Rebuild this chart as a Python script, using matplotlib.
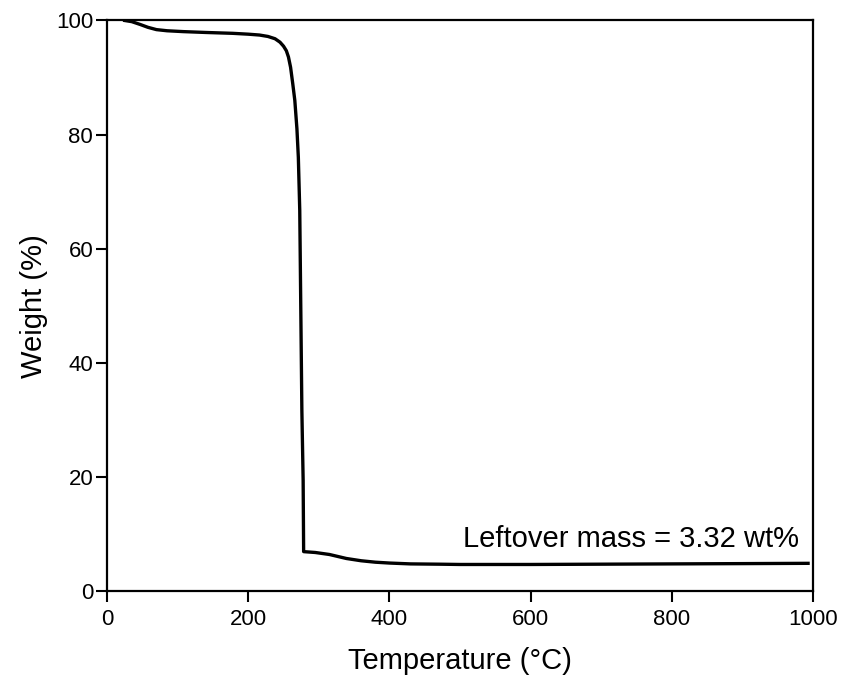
import numpy as np
import matplotlib
matplotlib.use("Agg")
import matplotlib.pyplot as plt

plt.rcParams['font.family'] = ['Liberation Sans', 'DejaVu Sans']

# TGA curve
temperature = [25, 35, 47, 58, 70, 85, 108, 140, 178, 200, 216, 228, 238,
               245, 250, 254, 257, 260, 263, 266, 269, 271, 273, 276, 277.8,
               278.5, 295, 315, 339, 360, 380, 400, 430, 470, 500, 600, 700,
               800, 900, 993]
weight = [100, 99.8, 99.3, 98.8, 98.4, 98.2, 98.05, 97.9, 97.75, 97.6, 97.45,
          97.2, 96.8, 96.2, 95.5, 94.7, 93.6, 91.8, 89, 86, 81, 76, 66.7,
          31.6, 19.4, 6.9, 6.75, 6.4, 5.7, 5.3, 5.05, 4.9, 4.75, 4.7, 4.65,
          4.65, 4.7, 4.75, 4.8, 4.85]

x_ticks = [0, 200, 400, 600, 800, 1000]
y_ticks = [0, 20, 40, 60, 80, 100]
note = "Leftover mass = 3.32 wt%"

fig = plt.figure(figsize=(8.46, 6.83), dpi=100)
ax = fig.add_axes([0.1265, 0.1347, 0.961 - 0.1265, 0.970 - 0.1347])

ax.plot(temperature, weight, color='black', lw=2.4, solid_joinstyle='round')

ax.set_xlim(0, 1000)
ax.set_ylim(0, 100)
ax.set_xticks(x_ticks)
ax.set_yticks(y_ticks)
ax.tick_params(direction='out', length=8, width=1.5, labelsize=16)
ax.tick_params(axis='x', pad=5)
ax.tick_params(axis='y', pad=2)
for sp in ax.spines.values():
    sp.set_linewidth(1.6)

ax.set_xlabel("Temperature (°C)", fontsize=21, labelpad=12)
ax.set_ylabel("Weight (%)", fontsize=21, labelpad=6)

ax.text(980, 7.75, note, ha='right', va='baseline', fontsize=21)

fig.savefig("out.png", dpi=100)
